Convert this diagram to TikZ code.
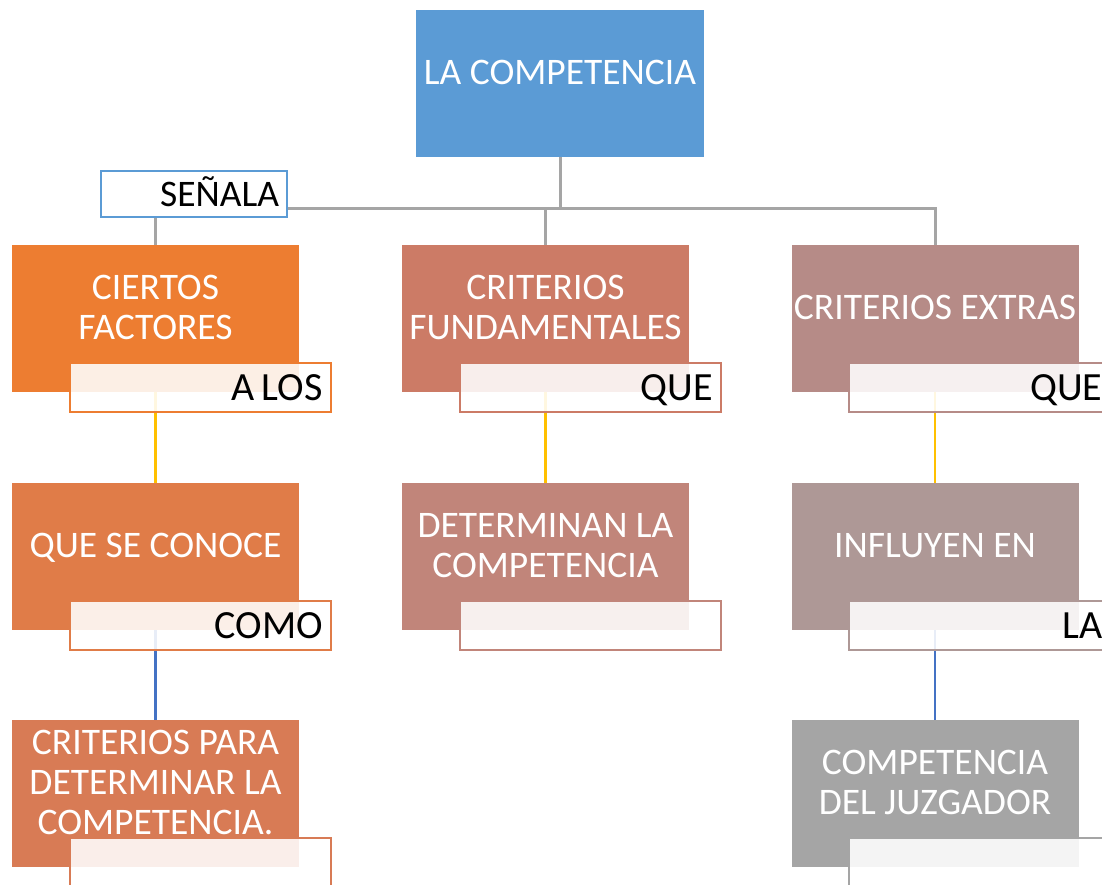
\documentclass[tikz,border=0pt]{standalone}
\usepackage{fontspec}
\setmainfont{Carlito}
\usepackage{xcolor}
\usepackage{tikz}
\usetikzlibrary{positioning}
\definecolor{c_top}{HTML}{5B9BD5}
\definecolor{c_fa}{HTML}{ED7D31}
\definecolor{c_fb}{HTML}{CC7B66}
\definecolor{c_fc}{HTML}{B68B87}
\definecolor{c_qa}{HTML}{E07C48}
\definecolor{c_qb}{HTML}{C1857A}
\definecolor{c_qc}{HTML}{AE9896}
\definecolor{c_ra}{HTML}{D87B55}
\definecolor{c_rc}{HTML}{A5A5A5}
\definecolor{c_gray}{HTML}{A5A5A5}
\definecolor{c_yel}{HTML}{FFC000}
\definecolor{c_blu}{HTML}{4472C4}
\newcommand{\cajatxt}[1]{\raisebox{7.5pt}[\height][\depth]{\begin{tabular}{@{}c@{}}#1\end{tabular}}}
\tikzset{
  caja/.style = {font=\fontsize{37.5}{40}\selectfont, rectangle, inner sep=0pt, text=white,
    minimum width=287pt, minimum height=147pt},% caja de color
  etq/.style = {font=\fontsize{40}{44}\selectfont, rectangle, anchor=north west, align=right,
    inner xsep=8pt, inner ysep=0pt, text width=245pt, minimum height=49pt,
    text height=25pt, text depth=0pt,
    fill=white, fill opacity=0.88, text opacity=1, line width=2pt},% etiqueta sobre la caja
  etq_s/.style = {etq, font=\fontsize{37.5}{40}\selectfont, anchor=center, text width=170pt,
    minimum height=46pt, text height=24pt, fill opacity=1},% etiqueta SENALA
  ln_gray/.style = {draw=c_gray, line width=3pt},
  ln_yel/.style = {draw=c_yel, line width=2.5pt},
  ln_blu/.style = {draw=c_blu, line width=2.5pt}
}
\begin{document}
\begin{tikzpicture}[x=1pt,y=-1pt]
\clip (0,0) rectangle (1102,884);
% cajas
\node [caja, fill=c_top, minimum width=288pt] (comp) at (560,83.5) {\cajatxt{LA COMPETENCIA}};
\node [caja, fill=c_fa] (fa) at (155.5,318.5) {\cajatxt{CIERTOS\\FACTORES}};
\node [caja, fill=c_fb] (fb) at (545.5,318.5) {\cajatxt{CRITERIOS\\FUNDAMENTALES}};
\node [caja, fill=c_fc] (fc) at (935,318.5) {\cajatxt{CRITERIOS EXTRAS}};
\node [caja, fill=c_qa] (qa) at (155.5,556.5) {\cajatxt{QUE SE CONOCE}};
\node [caja, fill=c_qb] (qb) at (545.5,556.5) {\cajatxt{DETERMINAN LA\\COMPETENCIA}};
\node [caja, fill=c_qc] (qc) at (935,556.5) {\cajatxt{INFLUYEN EN}};
\node [caja, fill=c_ra] (ra) at (155.5,793.5) {\cajatxt{CRITERIOS PARA\\DETERMINAR LA\\COMPETENCIA.}};
\node [caja, fill=c_rc] (rc) at (935,793.5) {\cajatxt{COMPETENCIA\\DEL JUZGADOR}};
% conectores
\coordinate (hub) at (560,208);
\draw [ln_gray] (comp.south) -- (hub);
\draw [ln_gray] (hub) -| (fa.north);
\draw [ln_gray] (hub) -| (fb.north);
\draw [ln_gray] (hub) -| (fc.north);
\draw [ln_yel] (fa.south) -- (qa.north);
\draw [ln_yel] (fb.south) -- (qb.north);
\draw [ln_yel] (fc.south) -- (qc.north);
\draw [ln_blu] (qa.south) -- (ra.north);
\draw [ln_blu] (qc.south) -- (rc.north);
% etiquetas
\node [etq_s, draw=c_top] (senala) at (194,194) {SEÑALA};
\node [etq, draw=c_fa] (e_fa) at ([xshift=57pt,yshift=30pt]fa.south west) {A\kern7.5pt LOS};
\node [etq, draw=c_fb] (e_fb) at ([xshift=57pt,yshift=30pt]fb.south west) {QUE};
\node [etq, draw=c_fc] (e_fc) at ([xshift=57pt,yshift=30pt]fc.south west) {QUE};
\node [etq, draw=c_qa] (e_qa) at ([xshift=57pt,yshift=30pt]qa.south west) {COMO};
\node [etq, draw=c_qb] (e_qb) at ([xshift=57pt,yshift=30pt]qb.south west) {};
\node [etq, draw=c_qc] (e_qc) at ([xshift=57pt,yshift=30pt]qc.south west) {LA};
\node [etq, draw=c_ra] (e_ra) at ([xshift=57pt,yshift=30pt]ra.south west) {};
\node [etq, draw=c_rc] (e_rc) at ([xshift=57pt,yshift=30pt]rc.south west) {};
\end{tikzpicture}
\end{document}
